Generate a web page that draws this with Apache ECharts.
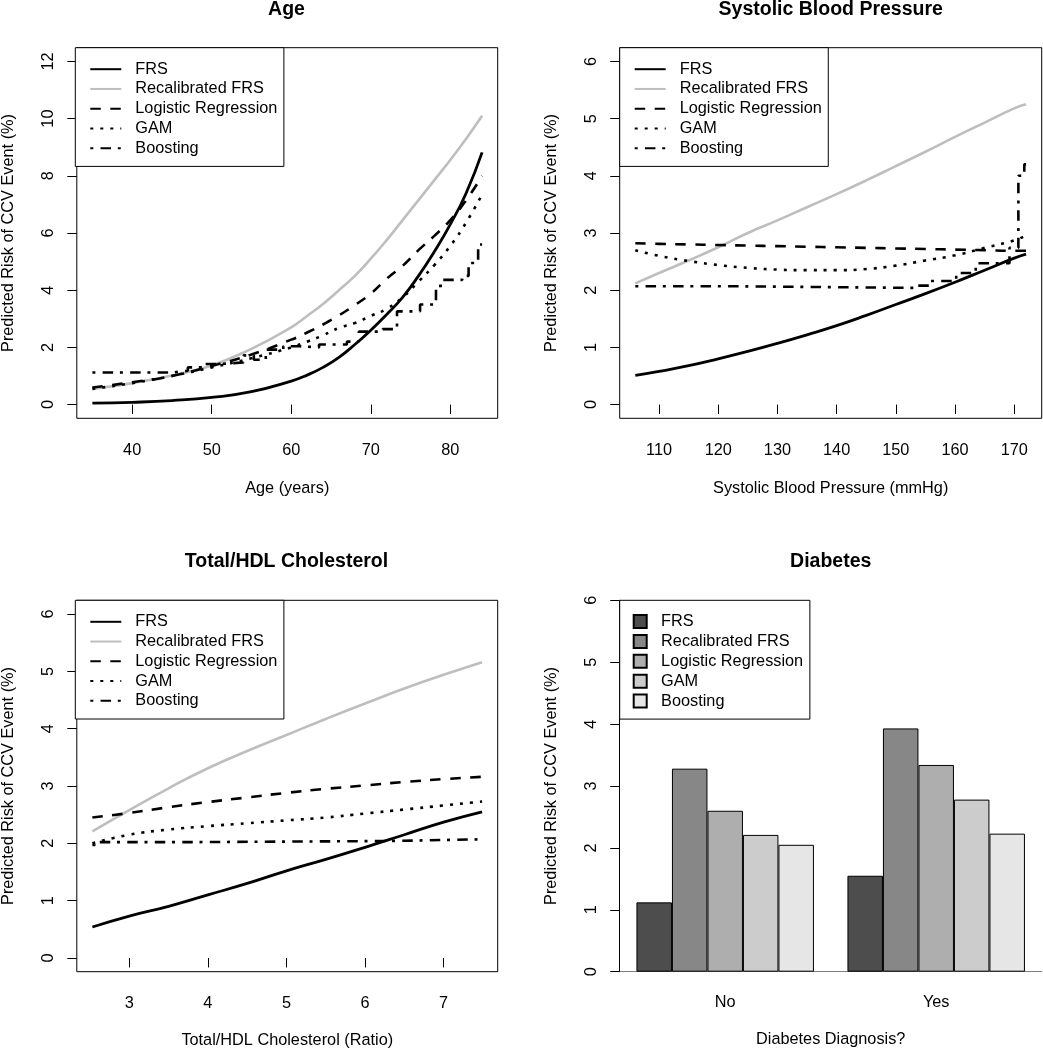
<!DOCTYPE html>
<html><head><meta charset="utf-8">
<script src="https://cdn.jsdelivr.net/npm/echarts@6/dist/echarts.min.js"></script>
<style>html,body{margin:0;padding:0;background:#fff}#c{width:1043px;height:1050px}</style>
</head><body><div id="c"></div>
<script>
// ---------- DATA ----------
const modelNames = ['FRS', 'Recalibrated FRS', 'Logistic Regression', 'GAM', 'Boosting'];

// Panel 1: Age
const ageX      = [35, 40, 45, 50, 55, 60, 62, 64, 66, 68, 70, 72, 74, 76, 78, 80, 82, 84];
const ageFRS    = [0.05, 0.08, 0.14, 0.25, 0.45, 0.82, 1.03, 1.3, 1.65, 2.1, 2.6, 3.15, 3.75, 4.5, 5.35, 6.3, 7.4, 8.82];
const ageRecal  = [0.55, 0.75, 1.02, 1.37, 1.95, 2.7, 3.1, 3.52, 4.0, 4.5, 5.1, 5.75, 6.45, 7.15, 7.85, 8.55, 9.3, 10.1];
const ageLogit  = [0.6, 0.78, 1.0, 1.35, 1.75, 2.27, 2.52, 2.8, 3.12, 3.48, 3.88, 4.4, 4.85, 5.4, 5.9, 6.45, 7.15, 8.0];
const ageGAM    = [0.55, 0.75, 1.0, 1.3, 1.62, 2.0, 2.2, 2.42, 2.68, 2.85, 3.1, 3.35, 3.75, 4.3, 4.88, 5.55, 6.37, 7.35];
const ageBoostX = [35, 45, 47, 49, 51, 54, 55.3, 56.8, 59, 61, 63.5, 67, 68.5, 71.5, 73.3, 76.2, 78.2, 79, 81.5, 82.3, 83.5, 84];
const ageBoostY = [1.12, 1.18, 1.3, 1.42, 1.47, 1.72, 1.57, 1.92, 2.04, 2.0, 2.1, 2.2, 2.55, 2.64, 3.26, 3.5, 4.15, 4.36, 4.5, 4.95, 5.6, 5.6];
const ageTicks  = [40, 50, 60, 70, 80];
const ageYTicks = [0, 2, 4, 6, 8, 10, 12];

// Panel 2: Systolic blood pressure
const sbpX      = [106, 110, 115, 120, 125, 130, 135, 140, 145, 150, 155, 160, 165, 170, 172];
const sbpFRS    = [0.51, 0.58, 0.68, 0.8, 0.93, 1.07, 1.22, 1.38, 1.56, 1.75, 1.94, 2.14, 2.35, 2.56, 2.63];
const sbpRecal  = [2.12, 2.3, 2.52, 2.75, 3.0, 3.22, 3.45, 3.68, 3.92, 4.17, 4.42, 4.68, 4.93, 5.18, 5.25];
const sbpLogit  = [2.82, 2.81, 2.8, 2.79, 2.78, 2.77, 2.76, 2.75, 2.74, 2.73, 2.72, 2.71, 2.7, 2.69, 2.69];
const sbpGAM    = [2.7, 2.6, 2.51, 2.44, 2.39, 2.36, 2.35, 2.35, 2.37, 2.43, 2.52, 2.61, 2.74, 2.87, 2.96];
const sbpBoostX = [106, 121.5, 153.5, 155.7, 160.2, 163.5, 169.2, 170.7, 171.7, 172];
const sbpBoostY = [2.07, 2.04, 2.08, 2.16, 2.3, 2.47, 2.74, 4.0, 4.2, 4.2];
const sbpTicks  = [110, 120, 130, 140, 150, 160, 170];

// Panel 3: Total/HDL cholesterol
const cholX      = [2.53, 3, 3.5, 4, 4.5, 5, 5.5, 6, 6.5, 7, 7.49];
const cholFRS    = [0.54, 0.73, 0.9, 1.1, 1.3, 1.52, 1.72, 1.93, 2.15, 2.37, 2.55];
const cholRecal  = [2.21, 2.58, 2.96, 3.31, 3.61, 3.89, 4.17, 4.44, 4.7, 4.94, 5.16];
const cholLogit  = [2.45, 2.53, 2.63, 2.72, 2.8, 2.88, 2.95, 3.01, 3.07, 3.12, 3.16];
const cholGAM    = [2.0, 2.15, 2.24, 2.3, 2.35, 2.4, 2.45, 2.52, 2.59, 2.66, 2.73];
const cholBoostX = [2.53, 2.56, 3.7, 6.3, 7.49];
const cholBoostY = [1.97, 2.02, 2.04, 2.07, 2.07];
const cholTicks  = [3, 4, 5, 6, 7];

const riskTicks6 = [0, 1, 2, 3, 4, 5, 6];

// Panel 4: Diabetes
const diabCats  = ['No', 'Yes'];
const diabFRS   = [1.12, 1.55];
const diabRecal = [3.28, 3.93];
const diabLogit = [2.60, 3.34];
const diabGAM   = [2.21, 2.78];
const diabBoost = [2.05, 2.23];

// ---------- STYLE ----------
const FONT = '"Liberation Sans", Arial, Helvetica, sans-serif';
const FS = 16.3;
const lineStyles = [
  {color: '#000000', width: 2.8, type: 'solid'},
  {color: '#BEBEBE', width: 2.6, type: 'solid'},
  {color: '#000000', width: 2.6, type: [10.5, 9.5], cap: 'butt'},
  {color: '#000000', width: 2.6, type: [3, 7], cap: 'butt'},
  {color: '#000000', width: 2.6, type: [3, 7.25, 10.5, 6.75], cap: 'butt'}
];
const barColors = ['#4D4D4D', '#878787', '#AEAEAE', '#CCCCCC', '#E6E6E6'];
const YTITLE = 'Predicted Risk of CCV Event (%)';

function ext(lo, hi) { const d = (hi - lo) * 0.04; return [lo - d, hi + d]; }
function zip(xs, ys) { return xs.map((x, i) => [x, ys[i]]); }

const grids = [
  {left: 75.3, top: 47.7, width: 422.4, height: 370.6},
  {left: 619.7, top: 47.7, width: 422, height: 370.6},
  {left: 75.3, top: 600.3, width: 422.4, height: 371.4},
  {left: 619.7, top: 600.3, width: 422, height: 371.4}
];

const xAxes = [], yAxes = [], series = [], legends = [];
const txt = {fontSize: FS, fontFamily: FONT, color: '#000'};

function valueXAxis(gi, range, ticks, name, gap) {
  return {
    gridIndex: gi, type: 'value', min: range[0], max: range[1],
    axisLine: {show: false}, splitLine: {show: false},
    axisTick: {show: true, inside: false, length: 9.5, customValues: ticks, lineStyle: {color: '#000', width: 1}},
    axisLabel: Object.assign({customValues: ticks, margin: 24}, txt),
    name: name, nameLocation: 'middle', nameGap: gap, nameTextStyle: txt
  };
}
function valueYAxis(gi, range, ticks, showLine) {
  return {
    gridIndex: gi, type: 'value', min: range[0], max: range[1],
    axisLine: {show: !!showLine, lineStyle: {color: '#000', width: 1}}, splitLine: {show: false},
    axisTick: {show: true, inside: false, length: 9.5, customValues: ticks, lineStyle: {color: '#000', width: 1}},
    axisLabel: Object.assign({customValues: ticks, margin: 20.4, rotate: 90}, txt),
    name: YTITLE, nameLocation: 'middle', nameGap: 59.8, nameTextStyle: txt
  };
}

function linePanel(gi, xs, curves, bx, by, xRange, yRange, xTicks, yTicks, xName, xGap) {
  xAxes.push(valueXAxis(gi, xRange, xTicks, xName, xGap));
  yAxes.push(valueYAxis(gi, yRange, yTicks, false));
  curves.forEach((ys, k) => {
    series.push({
      name: modelNames[k], type: 'line', xAxisIndex: gi, yAxisIndex: gi,
      data: zip(xs, ys), symbol: 'none', smooth: 0.5,
      lineStyle: lineStyles[k], itemStyle: {color: lineStyles[k].color}, z: 3 + (k === 0 ? 1 : 0)
    });
  });
  series.push({
    name: modelNames[4], type: 'line', xAxisIndex: gi, yAxisIndex: gi,
    data: zip(bx, by), symbol: 'none', step: 'end',
    lineStyle: lineStyles[4], itemStyle: {color: '#000'}, z: 3
  });
  const g = grids[gi];
  legends.push({
    orient: 'vertical', left: g.left, top: g.top,
    itemWidth: 31, itemHeight: 14, itemGap: 3.75,
    padding: [13.5, 6.5, 10.2, 14], borderColor: '#000', borderWidth: 1, borderRadius: 0,
    backgroundColor: '#fff', selectedMode: false,
    data: modelNames.slice(),
    itemStyle: {opacity: 0},
    textStyle: Object.assign({padding: [0, 0, 0, 9]}, txt)
  });
}

linePanel(0, ageX, [ageFRS, ageRecal, ageLogit, ageGAM], ageBoostX, ageBoostY,
  ext(35, 84), ext(0, 12), ageTicks, ageYTicks, 'Age (years)', 61.8);
linePanel(1, sbpX, [sbpFRS, sbpRecal, sbpLogit, sbpGAM], sbpBoostX, sbpBoostY,
  ext(106, 172), ext(0, 6), sbpTicks, riskTicks6, 'Systolic Blood Pressure (mmHg)', 61.8);
linePanel(2, cholX, [cholFRS, cholRecal, cholLogit, cholGAM], cholBoostX, cholBoostY,
  ext(2.53, 7.49), ext(0, 6), cholTicks, riskTicks6, 'Total/HDL Cholesterol (Ratio)', 60.5);

// Bar panel
xAxes.push({
  gridIndex: 3, type: 'category', data: diabCats, boundaryGap: true,
  axisLine: {show: true, lineStyle: {color: '#808080', width: 1}},
  axisTick: {show: false}, splitLine: {show: false},
  axisLabel: Object.assign({margin: 23}, txt),
  name: 'Diabetes Diagnosis?', nameLocation: 'middle', nameGap: 60, nameTextStyle: txt
});
yAxes.push(Object.assign(valueYAxis(3, [0, 6], riskTicks6, true), {interval: 1}));
[diabFRS, diabRecal, diabLogit, diabGAM, diabBoost].forEach((vals, k) => {
  series.push({
    name: 'bar:' + modelNames[k], type: 'bar', xAxisIndex: 3, yAxisIndex: 3,
    data: vals, barWidth: 35.5, barGap: '0%',
    itemStyle: {color: barColors[k], borderColor: '#000', borderWidth: 1}
  });
});
legends.push({
  orient: 'vertical', left: 619.7, top: 600.3,
  itemWidth: 13, itemHeight: 13, itemGap: 3.9, icon: 'rect',
  padding: [13.2, 6.7, 10, 13], borderColor: '#000', borderWidth: 1,
  backgroundColor: '#fff', selectedMode: false,
  data: modelNames.map(n => 'bar:' + n),
  formatter: n => n.replace('bar:', ''),
  textStyle: Object.assign({padding: [0, 0, 0, 9.4]}, txt)
});

const titleStyle = {fontSize: 19.5, fontWeight: 'bold', fontFamily: FONT, color: '#000'};
const titles = [
  {text: 'Age', left: 286.5, top: 9.6},
  {text: 'Systolic Blood Pressure', left: 830.7, top: 9.6},
  {text: 'Total/HDL Cholesterol', left: 286.5, top: 561.7},
  {text: 'Diabetes', left: 830.7, top: 561.7}
].map(t => Object.assign(t, {textAlign: 'center', textVerticalAlign: 'middle', padding: 0, textStyle: titleStyle}));

const chart = echarts.init(document.getElementById('c'), null, {renderer: 'canvas'});
chart.setOption({
  animation: false,
  backgroundColor: '#fff',
  title: titles,
  grid: grids.map((g, i) => Object.assign({show: i < 3, borderColor: '#000', borderWidth: 1, backgroundColor: 'transparent', containLabel: false}, g)),
  xAxis: xAxes,
  yAxis: yAxes,
  legend: legends,
  series: series
});
</script>
</body></html>
